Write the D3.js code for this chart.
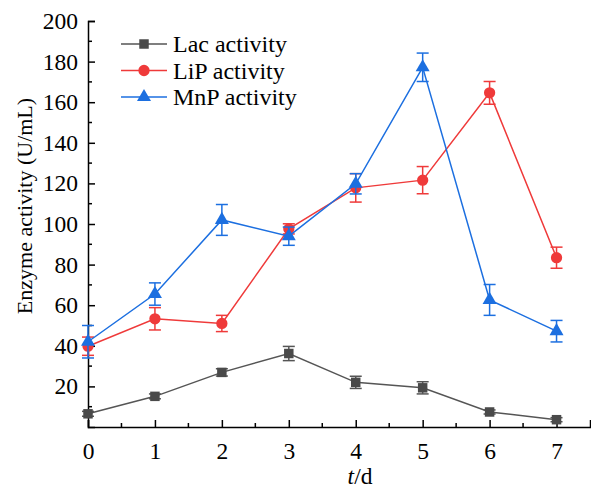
<!DOCTYPE html>
<html>
<head>
<meta charset="utf-8">
<script src="https://cdn.jsdelivr.net/npm/d3@7"></script>
<style>
  body { margin: 0; background: #fff; }
  svg { display: block; }
  svg text { font-family: "Liberation Serif", "Times New Roman", serif; }
</style>
</head>
<body>
<svg id="chart" width="591" height="488"></svg>
<script>
// days
const days = [0, 1, 2, 3, 4, 5, 6, 7];

// series values (U/mL) and error bars
const lacValues = [6.5, 15.1, 26.9, 36.2, 22.0, 19.3, 7.4, 3.6];
const lacErrors = [1.2, 1.2, 1.8, 3.5, 3.0, 3.0, 1.0, 1.0];
const lipValues = [39.8, 53.3, 51.0, 97.6, 117.8, 121.6, 164.6, 83.4];
const lipErrors = [4.5, 5.5, 4.0, 2.5, 7.0, 6.7, 5.6, 5.2];
const mnpValues = [42.0, 65.5, 102.0, 94.0, 119.8, 177.2, 62.6, 47.2];
const mnpErrors = [8.0, 5.5, 7.6, 4.5, 5.0, 7.0, 7.6, 5.3];

const yTicks = [20, 40, 60, 80, 100, 120, 140, 160, 180, 200];
const xTicks = [0, 1, 2, 3, 4, 5, 6, 7];

const series = [
  { name: "Lac activity", values: lacValues, errors: lacErrors, color: "#4a4a4a", line: "#555555", shape: d3.symbolSquare, size: 90 },
  { name: "LiP activity", values: lipValues, errors: lipErrors, color: "#ef3a3a", line: "#ef3a3a", shape: d3.symbolCircle, size: 100 },
  { name: "MnP activity", values: mnpValues, errors: mnpErrors, color: "#1c6fe0", line: "#1c6fe0", shape: d3.symbolTriangle, size: 85 }
];

const svg = d3.select("#chart");
const mLeft = 88, mRight = 590, mTop = 21, mBottom = 427;

const x = d3.scaleLinear().domain([0, 7.5]).range([mLeft, mRight]);
const y = d3.scaleLinear().domain([0, 200]).range([mBottom, mTop]);

// axes: ticks inside
const xAxis = d3.axisBottom(x).tickValues(xTicks).tickSize(-7).tickPadding(15).tickFormat(d3.format("d"));
const yAxis = d3.axisLeft(y).tickValues(yTicks).tickSize(-7).tickPadding(10).tickFormat(d3.format("d"));

const gx = svg.append("g").attr("transform", `translate(0,${mBottom})`).call(xAxis);
const gy = svg.append("g").attr("transform", `translate(${mLeft},0)`).call(yAxis);

// minor ticks
gx.selectAll(".minor").data(d3.range(0.5, 7.5, 1)).enter().append("line")
  .attr("x1", d => x(d)).attr("x2", d => x(d)).attr("y1", 0).attr("y2", -4)
  .attr("stroke", "#000").attr("stroke-width", 1.5);
gy.selectAll(".minor").data(d3.range(10, 200, 20)).enter().append("line")
  .attr("y1", d => y(d)).attr("y2", d => y(d)).attr("x1", 0).attr("x2", 4)
  .attr("stroke", "#000").attr("stroke-width", 1.5);

[gx, gy].forEach(g => {
  g.attr("font-family", null);
  g.select(".domain").attr("stroke", "#000").attr("stroke-width", 1.5);
  g.selectAll(".tick line").attr("stroke", "#000").attr("stroke-width", 1.5);
  g.selectAll("text").attr("font-size", 23.5).attr("fill", "#000");
});

// axis titles
const xt = svg.append("text").attr("x", 360).attr("y", 484)
  .attr("text-anchor", "middle").attr("font-size", 23.5).attr("fill", "#000");
xt.append("tspan").attr("font-style", "italic").text("t");
xt.append("tspan").text("/d");

svg.append("text")
  .attr("transform", `translate(32,206) rotate(-90)`)
  .attr("text-anchor", "middle").attr("font-size", 22).attr("fill", "#000")
  .text("Enzyme activity (U/mL)");

// lines, error bars, markers
const line = d3.line().x((d, i) => x(days[i])).y(d => y(d));

series.forEach(s => {
  const g = svg.append("g");
  g.append("path").datum(s.values).attr("d", line)
    .attr("fill", "none").attr("stroke", s.line).attr("stroke-width", 1.5);

  const eb = g.selectAll(".err").data(s.values).enter().append("g");
  eb.append("line")
    .attr("x1", (d, i) => x(days[i])).attr("x2", (d, i) => x(days[i]))
    .attr("y1", (d, i) => y(d - s.errors[i])).attr("y2", (d, i) => y(d + s.errors[i]))
    .attr("stroke", s.line).attr("stroke-width", 1.5);
  [-1, 1].forEach(sign => {
    eb.append("line")
      .attr("x1", (d, i) => x(days[i]) - 6).attr("x2", (d, i) => x(days[i]) + 6)
      .attr("y1", (d, i) => y(d + sign * s.errors[i])).attr("y2", (d, i) => y(d + sign * s.errors[i]))
      .attr("stroke", s.line).attr("stroke-width", 1.5);
  });

  const sym = d3.symbol().type(s.shape).size(s.size);
  g.selectAll(".pt").data(s.values).enter().append("path")
    .attr("d", sym)
    .attr("transform", (d, i) => `translate(${x(days[i])},${y(d)})`)
    .attr("fill", s.color);
});

// legend
const legend = svg.append("g").attr("transform", "translate(121,44)");
series.forEach((s, i) => {
  const r = legend.append("g").attr("transform", `translate(0,${i * 26.5})`);
  r.append("line").attr("x1", 0).attr("x2", 46).attr("y1", 0).attr("y2", 0)
    .attr("stroke", s.line).attr("stroke-width", 1.5);
  r.append("path").attr("d", d3.symbol().type(s.shape).size(s.size))
    .attr("transform", "translate(23,0)").attr("fill", s.color);
  r.append("text").attr("x", 52).attr("y", 8).attr("font-size", 24).attr("fill", "#000").text(s.name);
});
</script>
</body>
</html>
